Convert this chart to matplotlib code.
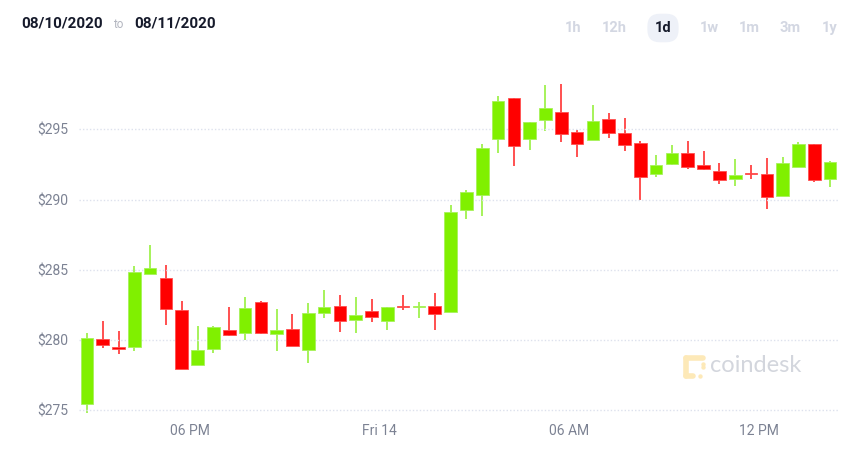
import matplotlib
matplotlib.use("Agg")
import matplotlib.pyplot as plt
from matplotlib.ticker import FixedLocator, FuncFormatter

# 30-minute candles, 08/13 ~15:00 -> 08/14 ~15:00
opens = [275.46, 280.09, 279.50, 279.52, 284.73, 284.40, 282.12, 278.20, 279.33, 280.71,
         280.50, 282.71, 280.45, 280.78, 279.31, 281.90, 282.45, 281.43, 282.09, 281.38,
         282.35, 282.38, 282.42, 282.00, 289.28, 290.33, 294.33, 297.23, 294.29, 295.66,
         296.26, 294.80, 294.22, 295.73, 294.75, 294.04, 291.85, 292.57, 293.31, 292.50,
         292.07, 291.48, 291.90, 291.83, 290.26, 292.35, 293.99, 291.45]
highs = [280.50, 281.33, 280.60, 285.30, 286.75, 285.35, 282.80, 281.00, 281.00, 282.35,
         283.04, 282.78, 282.23, 281.83, 282.62, 283.56, 283.20, 283.06, 282.92, 282.33,
         283.21, 282.71, 283.35, 289.62, 290.66, 293.97, 297.41, 297.27, 295.50, 298.17,
         298.25, 294.95, 296.72, 296.20, 295.80, 294.18, 293.16, 293.90, 294.18, 293.47,
         292.62, 292.88, 292.47, 292.95, 293.04, 294.11, 294.00, 292.76]
lows = [274.78, 279.45, 279.02, 279.22, 284.73, 281.05, 277.89, 278.20, 279.10, 280.31,
        279.98, 280.43, 279.24, 279.60, 278.34, 281.59, 280.59, 280.50, 281.28, 280.69,
        282.16, 281.57, 280.74, 282.00, 288.60, 288.86, 293.35, 292.42, 293.54, 294.92,
        294.14, 293.06, 294.22, 294.40, 293.49, 289.96, 291.62, 292.47, 292.21, 292.10,
        291.12, 290.95, 291.50, 289.34, 290.26, 292.35, 291.26, 290.88]
closes = [280.16, 279.62, 279.34, 284.85, 285.11, 282.18, 277.96, 279.26, 280.93, 280.38,
          282.28, 280.52, 280.74, 279.60, 281.90, 282.33, 281.33, 281.78, 281.66, 282.33,
          282.32, 282.41, 281.88, 289.10, 290.55, 293.66, 297.06, 293.81, 295.50, 296.52,
          294.67, 293.97, 295.63, 294.78, 293.92, 291.62, 292.47, 293.35, 292.31, 292.21,
          291.40, 291.72, 291.83, 290.19, 292.59, 293.97, 291.40, 292.69]

y_ticks = [275, 280, 285, 290, 295]
x_tick_pos = [6.5, 18.5, 30.5, 42.5]
x_tick_labels = ["06 PM", "Fri 14", "06 AM", "12 PM"]
ranges = ["1h", "12h", "1d", "1w", "1m", "3m", "1y"]

UP = "#80f000"
DOWN = "#ff0000"
UP_WICK = "#a6f25a"
DOWN_WICK = "#ff5050"

fig = plt.figure(figsize=(8.62, 4.49), dpi=100)
W, H = 862, 449

# watermark layer (behind the chart)
ov = fig.add_axes([0, 0, 1, 1])
ov.set_xlim(0, W)
ov.set_ylim(H, 0)
ov.axis("off")
logo = "#fde9b8"
ov.plot([686, 686], [358, 376], color=logo, linewidth=4, solid_capstyle="round")
ov.plot([686, 703], [358, 358], color=logo, linewidth=4, solid_capstyle="round")
ov.plot([686, 693], [376, 376], color=logo, linewidth=4, solid_capstyle="round")
ov.scatter([703, 700, 703], [367, 376, 364], s=10, color=logo, linewidths=0)
ov.text(710, 366, "coindesk", fontsize=17, family="Lato",
        color="#d3d6dd", va="center")

ax = fig.add_axes([79 / W, 29 / H, 759 / W, 350 / H])
ax.patch.set_alpha(0)

for i in range(len(opens)):
    o, h, l, c = opens[i], highs[i], lows[i], closes[i]
    up = c >= o
    wick = UP_WICK if up else DOWN_WICK
    body = UP if up else DOWN
    ax.vlines(i, l, h, color=wick, linewidth=1.4, zorder=2)
    bottom = min(o, c)
    height = max(abs(c - o), 0.07)
    ax.bar(i, height, bottom=bottom, width=0.8, color=body,
           edgecolor=wick, linewidth=0.6, zorder=3)

ax.set_xlim(-0.5, 47.5)
ax.set_ylim(274.29, 299.24)

ax.yaxis.set_major_locator(FixedLocator(y_ticks))
ax.yaxis.set_major_formatter(FuncFormatter(lambda v, p: f"${v:.0f}"))
ax.set_xticks(x_tick_pos)
ax.set_xticklabels(x_tick_labels)
ax.grid(axis="y", color="#dde1ed", linestyle=(0, (1, 1.5)), linewidth=1.0, zorder=4)
ax.set_axisbelow(False)
ax.tick_params(axis="both", length=0, colors="#7c8293", labelsize=10)
ax.tick_params(axis="y", pad=8)
ax.tick_params(axis="x", pad=3)
for lab in ax.get_xticklabels() + ax.get_yticklabels():
    lab.set_family("Roboto")
for s in ax.spines.values():
    s.set_visible(False)

# header
fig.text(21 / W, 1 - 24 / H, "08/10/2020", fontsize=11, fontweight="bold",
         family="Roboto", color="#161a2b", va="center")
fig.text(113 / W, 1 - 25 / H, "to", fontsize=8.5, family="Roboto",
         color="#b3b6c0", va="center")
fig.text(134 / W, 1 - 24 / H, "08/11/2020", fontsize=11, fontweight="bold",
         family="Roboto", color="#161a2b", va="center")

btn_x = [573, 614, 663, 709, 749, 790, 830]
for lbl, bx in zip(ranges, btn_x):
    if lbl == "1d":
        fig.text(bx / W, 1 - 28 / H, lbl, fontsize=10.5, family="Roboto",
                 fontweight="bold", color="#161a2b", ha="center", va="center",
                 bbox=dict(boxstyle="round,pad=0.5,rounding_size=0.85",
                           fc="#eef1f8", ec="none"))
    else:
        fig.text(bx / W, 1 - 28 / H, lbl, fontsize=10.5, family="Roboto",
                 fontweight="bold", color="#d3d7e2", ha="center", va="center")

fig.savefig("out.png", dpi=100)
